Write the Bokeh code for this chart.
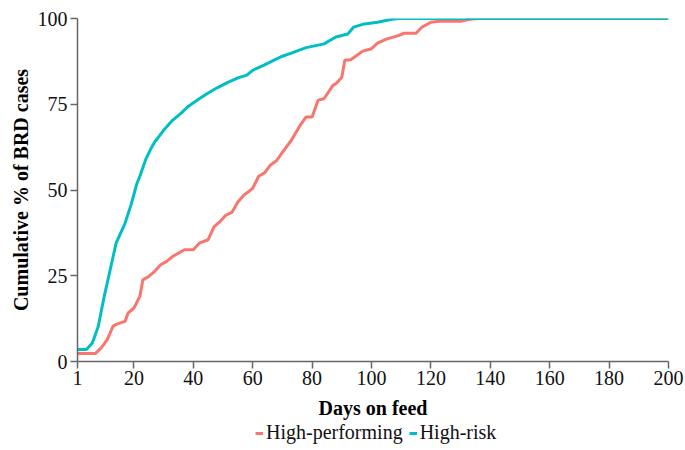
from bokeh.plotting import figure
from bokeh.layouts import column
from bokeh.models import Range1d, FixedTicker, Legend, LegendItem
from bokeh.embed import file_html
from bokeh.resources import INLINE

hp_days = [1, 7, 9, 11, 13, 14, 17, 18, 20, 22, 23, 25, 27, 29, 31, 33, 37, 40, 42, 45, 47, 49, 51, 53, 55, 57, 59, 60, 62, 64, 66, 68, 70, 73, 76, 78, 80, 82, 84, 87, 88, 90, 91, 93, 95, 97, 100, 102, 105, 109, 111, 115, 117, 120, 123, 130, 133, 136, 200]
hp_pct = [2.3, 2.3, 4, 6.4, 10.3, 10.8, 11.7, 14.1, 15.6, 19, 23.8, 24.8, 26.3, 28.2, 29.2, 30.6, 32.6, 32.6, 34.5, 35.5, 39.3, 40.8, 42.7, 43.5, 46.5, 48.5, 49.8, 50.5, 54, 55, 57.3, 58.5, 61, 64.5, 68.9, 71.3, 71.3, 76.2, 76.6, 80.5, 81, 82.9, 87.8, 88, 89.2, 90.5, 91.2, 92.8, 94, 95, 95.7, 95.7, 97.5, 98.9, 99.2, 99.2, 99.8, 100, 100]

hr_days = [1, 4, 6, 8, 10, 13, 14, 17, 19, 21, 22, 24, 26, 27, 30, 33, 36, 38, 42, 45, 48, 52, 55, 58, 60, 64, 67, 70, 73, 78, 84, 88, 92, 94, 97, 102, 107, 109, 200]
hr_pct = [3.5, 3.5, 5.4, 10.3, 19, 30.6, 34.5, 40.3, 45.6, 51.9, 54, 59, 62.5, 64, 67.4, 70.3, 72.5, 74.2, 76.6, 78.3, 79.8, 81.5, 82.7, 83.5, 84.9, 86.5, 87.8, 89, 89.9, 91.5, 92.6, 94.6, 95.5, 97.5, 98.3, 98.9, 99.8, 100, 100]

x_ticks = [1, 20, 40, 60, 80, 100, 120, 140, 160, 180, 200]
y_ticks = [0, 25, 50, 75, 100]
series_names = ["High-performing", "High-risk"]
colors = ["#F8766D", "#00BFC4"]

FONT = "Liberation Serif"

p = figure(width=685, height=421, output_backend="svg", toolbar_location=None,
           x_range=Range1d(1, 200), y_range=Range1d(0, 100),
           min_border_left=77, min_border_right=17, min_border_top=18, min_border_bottom=59)
p.outline_line_color = None
p.grid.grid_line_color = None

p.line(hp_days, hp_pct, line_color=colors[0], line_width=3)
p.line(hr_days, hr_pct, line_color=colors[1], line_width=3)

for ax in (p.xaxis[0], p.yaxis[0]):
    ax.axis_line_color = "#666666"
    ax.axis_line_width = 1.5
    ax.major_tick_line_color = "#666666"
    ax.major_tick_line_width = 1.5
    ax.major_tick_out = 7
    ax.major_tick_in = 0
    ax.minor_tick_line_color = None
    ax.major_label_text_font = FONT
    ax.major_label_text_font_size = "20px"
    ax.major_label_text_color = "#111111"
    ax.axis_label_text_font = FONT
    ax.axis_label_text_font_style = "bold"
    ax.axis_label_text_font_size = "20px"
    ax.axis_label_text_color = "#000000"

p.xaxis.ticker = FixedTicker(ticks=x_ticks)
p.yaxis.ticker = FixedTicker(ticks=y_ticks)
p.xaxis.axis_label = "Days on feed"
p.yaxis.axis_label = "Cumulative % of BRD cases"
p.xaxis.major_label_standoff = 2
p.yaxis.major_label_standoff = 3
p.xaxis.axis_label_standoff = 9
p.yaxis.axis_label_standoff = 3

# legend strip below the chart
lg = figure(width=685, height=28, output_backend="svg", toolbar_location=None,
            x_range=Range1d(0, 1), y_range=Range1d(0, 1),
            x_axis_location=None, y_axis_location=None,
            min_border_left=77, min_border_right=17,
            min_border_top=0, min_border_bottom=0)
lg.outline_line_color = None
lg.grid.grid_line_color = None
l1 = lg.line(x=[-5, -4], y=[-5, -4], line_color=colors[0], line_width=3)
l2 = lg.line(x=[-5, -4], y=[-5, -4], line_color=colors[1], line_width=3)

legend = Legend(items=[LegendItem(label=series_names[0], renderers=[l1]),
                       LegendItem(label=series_names[1], renderers=[l2])],
                orientation="horizontal", location=(178, 5),
                label_text_font=FONT, label_text_font_size="20px",
                label_text_color="#111111", label_height=20,
                glyph_width=8, glyph_height=14, label_standoff=3, spacing=6,
                padding=0, margin=0, border_line_color=None, background_fill_alpha=0)
lg.add_layout(legend, "center")

layout = column(p, lg, spacing=0)
open("out.html", "w").write(file_html(layout, INLINE))
